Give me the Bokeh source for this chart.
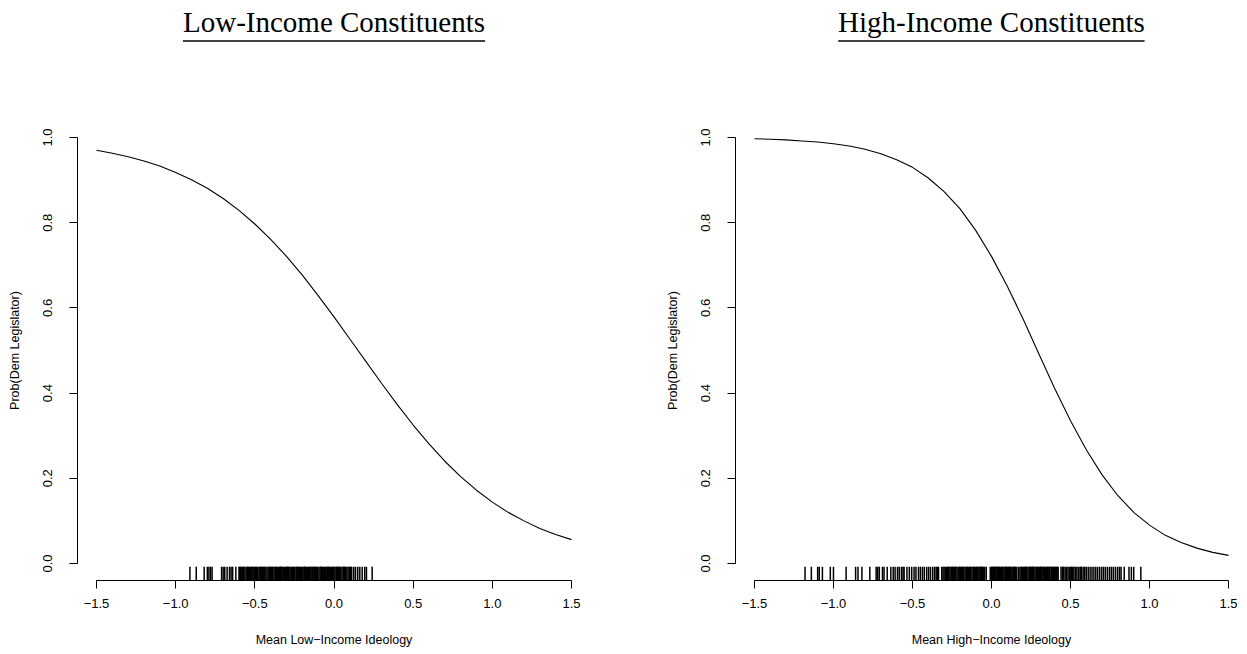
from bokeh.plotting import figure
from bokeh.layouts import row, column
from bokeh.models import FixedTicker, CustomJSTickFormatter, Range1d
from bokeh.core.properties import value
from bokeh.embed import file_html
from bokeh.resources import INLINE

# ---- data ----
ideology_grid = [-1.5, -1.4, -1.3, -1.2, -1.1, -1.0, -0.9, -0.8, -0.7, -0.6, -0.5,
                 -0.4, -0.3, -0.2, -0.1, 0.0, 0.1, 0.2, 0.3, 0.4, 0.5,
                 0.6, 0.7, 0.8, 0.9, 1.0, 1.1, 1.2, 1.3, 1.4, 1.5]

prob_low = [0.970, 0.963, 0.955, 0.945, 0.933, 0.918, 0.901, 0.881, 0.857, 0.829, 0.797,
            0.761, 0.721, 0.677, 0.629, 0.579, 0.527, 0.475, 0.423, 0.373, 0.325,
            0.281, 0.240, 0.204, 0.172, 0.144, 0.120, 0.100, 0.082, 0.068, 0.056]

prob_high = [0.997, 0.996, 0.9945, 0.992, 0.9895, 0.9855, 0.980, 0.9725, 0.962, 0.948, 0.930,
             0.905, 0.873, 0.833, 0.782, 0.721, 0.651, 0.574, 0.492, 0.411, 0.335,
             0.267, 0.208, 0.159, 0.120, 0.090, 0.066, 0.049, 0.036, 0.026, 0.019]

rug_low = [-0.91, -0.87, -0.82, -0.80, -0.79, -0.78, -0.77, -0.71, -0.70, -0.69, -0.675,
           -0.66, -0.65, -0.64, -0.62,
           -0.600, -0.592, -0.586, -0.578, -0.571, -0.563, -0.555, -0.549, -0.541, -0.533,
           -0.527, -0.519, -0.511, -0.504, -0.497, -0.489, -0.482, -0.474, -0.468, -0.460,
           -0.452, -0.446, -0.438, -0.430, -0.423, -0.416, -0.409, -0.401, -0.394, -0.386,
           -0.379, -0.372, -0.364, -0.357, -0.350, -0.343, -0.335, -0.328, -0.320, -0.313,
           -0.306, -0.298, -0.291, -0.284, -0.277, -0.270, -0.262, -0.255, -0.248, -0.240,
           -0.233, -0.226, -0.219, -0.211, -0.204, -0.197, -0.190, -0.182, -0.175, -0.168,
           -0.161, -0.153, -0.146, -0.139, -0.132, -0.124, -0.117, -0.110, -0.103, -0.095,
           -0.088, -0.081, -0.074, -0.066, -0.059, -0.052, -0.045, -0.037, -0.030, -0.023,
           -0.016, -0.008, -0.001, 0.006, 0.013, 0.021, 0.028, 0.035, 0.043, 0.050,
           0.058, 0.065, 0.073, 0.081, 0.089, 0.097, 0.105, 0.112,
           -0.574, -0.515, -0.462, -0.405, -0.368, -0.331, -0.295, -0.259, -0.222, -0.186,
           -0.149, -0.113, -0.077, -0.041, -0.005, 0.031, 0.061,
           -0.596, -0.545, -0.493, -0.442, -0.390, -0.339, -0.287, -0.236, -0.184, -0.133,
           -0.081, -0.029, 0.017, 0.069, 0.101,
           0.125, 0.136, 0.150, 0.163, 0.178, 0.194, 0.205, 0.241]

rug_high = [-1.18, -1.14, -1.10, -1.09, -1.07, -1.02, -1.00, -0.92, -0.86, -0.845, -0.82,
            -0.77, -0.73, -0.72, -0.71, -0.69, -0.68, -0.66, -0.637, -0.622, -0.61, -0.595,
            -0.584, -0.57, -0.56, -0.553, -0.535,
            -0.520, -0.505, -0.490, -0.478, -0.462, -0.450, -0.437, -0.425, -0.410, -0.398,
            -0.386, -0.372, -0.360, -0.350, -0.342, -0.335, -0.315, -0.307, -0.300, -0.292,
            -0.285, -0.277, -0.270, -0.262, -0.255, -0.247, -0.240, -0.233, -0.226, -0.218,
            -0.211, -0.204, -0.196, -0.189, -0.182, -0.175, -0.167, -0.160, -0.153, -0.145,
            -0.138, -0.131, -0.124, -0.116, -0.109, -0.102, -0.095, -0.087, -0.080, -0.073,
            -0.066, -0.058, -0.051, -0.043, -0.008, 0.000, 0.007, 0.014, 0.022, 0.029,
            0.036, 0.043, 0.051, 0.058, 0.065, 0.073, 0.080, 0.087, 0.094, 0.102,
            0.109, 0.116, 0.124, 0.131, 0.138, 0.146, 0.153, 0.160, 0.180, 0.187,
            0.195, 0.202, 0.209, 0.216, 0.224, 0.231, 0.238, 0.246, 0.253, 0.260,
            0.268, 0.275, 0.282, 0.290, 0.297, 0.304, 0.312, 0.319, 0.326, 0.334,
            0.341, 0.348, 0.356, 0.363, 0.370, 0.378, 0.385, 0.392, 0.400, 0.407,
            0.415, 0.422, 0.440, 0.448, 0.457, 0.466, 0.475, 0.484, 0.493, 0.502,
            0.512, 0.521, 0.530, 0.540, 0.550, 0.560, 0.570, 0.580, 0.590, 0.600,
            0.612, 0.624, 0.636, 0.648, 0.660, 0.672, 0.685, 0.698, 0.710, 0.722,
            0.735, 0.748, 0.760, 0.772, 0.785, 0.798, 0.810, 0.820,
            -0.272, -0.200, -0.135, -0.070, 0.025, 0.090, 0.150, 0.210, 0.265, 0.330, 0.395,
            -0.033, 0.004, 0.047, 0.113, 0.171, 0.242, 0.308, 0.366, 0.452, 0.507, 0.565,
            -0.249, -0.228, -0.178, -0.156, -0.113, -0.091, -0.062, 0.018, 0.040, 0.069,
            0.098, 0.120, 0.142, 0.191, 0.220, 0.257, 0.286, 0.315, 0.352, 0.381, 0.411,
            0.840, 0.870, 0.885, 0.900, 0.945]

x_ticks = [-1.5, -1.0, -0.5, 0.0, 0.5, 1.0, 1.5]
y_ticks = [0.0, 0.2, 0.4, 0.6, 0.8, 1.0]
panel_titles = ["Low-Income Constituents", "High-Income Constituents"]
x_titles = ["Mean Low\u2212Income Ideology", "Mean High\u2212Income Ideology"]
y_title = "Prob(Dem Legislator)"

SANS = "Liberation Sans"
SERIF = "Liberation Serif"
X_LO, X_HI = -1.62, 1.62
PX_PER_UNIT = 513 / (X_HI - X_LO)
TITLE_H = 50

fmt_code = "return tick.toFixed(1).replace('-', '\u2212');"


def make_title(title, width, border_left, border_right, ul_half):
    # a strip above each panel, sharing the panel's horizontal data scale
    lo = X_LO - border_left / PX_PER_UNIT
    hi = X_HI + border_right / PX_PER_UNIT
    t = figure(width=width, height=TITLE_H, x_range=Range1d(lo, hi),
               y_range=Range1d(0, TITLE_H), output_backend="svg",
               toolbar_location=None, min_border=0)
    t.axis.visible = False
    t.grid.visible = False
    t.outline_line_color = None
    t.text(x=[0.0], y=[29], text=[title], text_align="center",
           text_baseline="alphabetic", text_font=value(SERIF),
           text_font_size="29px", text_color="black")
    t.segment(x0=[-ul_half], y0=[9.5], x1=[ul_half], y1=[9.5],
              line_color="black", line_width=1.6)
    return t


def make_panel(xlab, probs, rug, width, border_left, border_right):
    p = figure(width=width, height=654 - TITLE_H,
               x_range=Range1d(X_LO, X_HI), y_range=Range1d(-0.04, 1.04),
               output_backend="svg", toolbar_location=None,
               min_border_left=border_left, min_border_right=border_right,
               min_border_top=120 - TITLE_H, min_border_bottom=74)
    p.outline_line_color = None
    p.xgrid.visible = False
    p.ygrid.visible = False

    for ax in (p.xaxis[0], p.yaxis[0]):
        ax.axis_line_color = "black"
        ax.axis_line_width = 1
        ax.major_tick_line_color = "black"
        ax.major_tick_in = 0
        ax.major_tick_out = 8
        ax.minor_tick_line_color = None
        ax.major_label_text_font = SANS
        ax.major_label_text_font_size = "13px"
        ax.major_label_text_color = "black"
        ax.axis_label_text_font = SANS
        ax.axis_label_text_font_size = "12.5px"
        ax.axis_label_text_font_style = "normal"
        ax.axis_label_text_color = "black"
        ax.formatter = CustomJSTickFormatter(code=fmt_code)

    p.xaxis[0].ticker = FixedTicker(ticks=x_ticks)
    p.xaxis[0].bounds = (x_ticks[0], x_ticks[-1])
    p.xaxis[0].axis_label = xlab
    p.xaxis[0].major_label_standoff = 10
    p.xaxis[0].axis_label_standoff = 22

    p.yaxis[0].ticker = FixedTicker(ticks=y_ticks)
    p.yaxis[0].bounds = (y_ticks[0], y_ticks[-1])
    p.yaxis[0].axis_label = y_title
    p.yaxis[0].major_label_orientation = "vertical"
    p.yaxis[0].major_label_standoff = 17
    p.yaxis[0].axis_label_standoff = 19

    p.line(ideology_grid, probs, line_color="black", line_width=1.1)

    n = len(rug)
    p.segment(x0=rug, y0=[-0.04] * n, x1=rug, y1=[-0.008] * n,
              line_color="black", line_width=1.5)
    return p


t1 = make_title(panel_titles[0], 624, 77, 34, 0.954)
t2 = make_title(panel_titles[1], 623, 111, 0, 0.969)
p1 = make_panel(x_titles[0], prob_low, rug_low, 624, 77, 34)
p2 = make_panel(x_titles[1], prob_high, rug_high, 623, 111, 0)

layout = column(row(t1, t2), row(p1, p2))
open("out.html", "w").write(file_html(layout, INLINE))
